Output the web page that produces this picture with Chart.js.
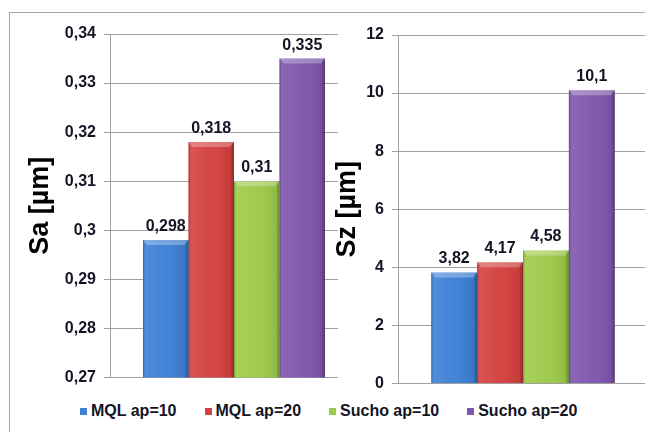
<!DOCTYPE html>
<html>
<head>
<meta charset="utf-8">
<script src="https://cdn.jsdelivr.net/npm/chart.js@4.4.0/dist/chart.umd.min.js"></script>
<style>
body{margin:0;width:645px;height:432px;overflow:hidden;background:#fff;position:relative;font-family:"Liberation Sans",Arial,sans-serif}
#frame{position:absolute;left:9px;top:12px;width:700px;height:500px;border:1px solid #a6a6a6}
#cSa{position:absolute;left:10px;top:13px;z-index:1}
#cSz{position:absolute;left:326px;top:13px;z-index:2}
#legend{position:absolute;left:80px;top:401px;display:flex;gap:28px;z-index:3;line-height:20px}
#legend .it{display:flex;align-items:center;font-weight:bold;font-size:16px;color:#141424}
#legend .sq{width:7px;height:7px;margin-right:4px}
</style>
</head>
<body>
<div id="frame"></div>
<canvas id="cSa" width="348" height="382"></canvas>
<canvas id="cSz" width="322" height="388"></canvas>
<div id="legend"></div>
<script>
// series
const seriesNames = ['MQL ap=10', 'MQL ap=20', 'Sucho ap=10', 'Sucho ap=20'];
const seriesColors = ['#3d7fd4', '#d4403e', '#9dcb48', '#7e56ad'];
const saValues = [0.298, 0.318, 0.31, 0.335];
const szValues = [3.82, 4.17, 4.58, 10.1];

// axis ranges
const saMin = 0.27, saMax = 0.34, saStep = 0.01;
const szMin = 0, szMax = 12, szStep = 2;

function fmt(v) {
    return String(Number(v.toFixed(3))).replace('.', ',');
}

// 3D-ish shading on top of the bars
const bevel = {
    id: 'bevel',
    afterDatasetsDraw(chart) {
        const ctx = chart.ctx;
        const area = chart.chartArea;
        chart.data.datasets.forEach((ds, i) => {
            chart.getDatasetMeta(i).data.forEach(bar => {
                const l = bar.x - bar.width / 2, r = bar.x + bar.width / 2;
                const t = bar.y, b = Math.min(bar.base, area.bottom);
                ctx.save();
                const g = ctx.createLinearGradient(l, 0, r, 0);
                g.addColorStop(0, 'rgba(0,0,0,0.25)');
                g.addColorStop(0.06, 'rgba(255,255,255,0.10)');
                g.addColorStop(0.5, 'rgba(255,255,255,0.03)');
                g.addColorStop(0.92, 'rgba(0,0,0,0.08)');
                g.addColorStop(1, 'rgba(0,0,0,0.35)');
                ctx.fillStyle = g;
                ctx.fillRect(l, t, r - l, b - t);
                ctx.beginPath();
                ctx.moveTo(l, t);
                ctx.lineTo(r, t);
                ctx.lineTo(r - 4, t + 5);
                ctx.lineTo(l + 4, t + 5);
                ctx.closePath();
                ctx.fillStyle = 'rgba(255,255,255,0.28)';
                ctx.fill();
                ctx.restore();
            });
        });
    }
};

// value labels above bars
const valueLabels = {
    id: 'valueLabels',
    afterDatasetsDraw(chart) {
        const ctx = chart.ctx;
        ctx.save();
        ctx.font = 'bold 16px "Liberation Sans", Arial, sans-serif';
        ctx.fillStyle = '#141424';
        ctx.textAlign = 'center';
        ctx.textBaseline = 'alphabetic';
        chart.data.datasets.forEach((ds, i) => {
            chart.getDatasetMeta(i).data.forEach((bar, j) => {
                ctx.fillText(fmt(ds.data[j]), bar.x, bar.y - 9);
            });
        });
        ctx.restore();
    }
};

// white backdrop so the right chart hides the end of the left gridlines
const whiteBack = {
    id: 'whiteBack',
    beforeDraw(chart, args, opts) {
        const ctx = chart.ctx;
        ctx.save();
        ctx.fillStyle = '#fff';
        ctx.fillRect(opts.from, 0, chart.width - opts.from, chart.height);
        ctx.restore();
    }
};

function makeChart(id, values, min, max, step, title, yWidth, titlePad, padTop, padBottom, backFrom) {
    return new Chart(id, {
        type: 'bar',
        data: {
            labels: [''],
            datasets: seriesNames.map((name, i) => ({
                label: name,
                data: [values[i]],
                backgroundColor: seriesColors[i],
                borderWidth: 0,
                barPercentage: 1,
                categoryPercentage: 0.734
            }))
        },
        options: {
            responsive: false,
            animation: false,
            layout: { padding: { top: padTop, bottom: padBottom, left: 0, right: 0 } },
            plugins: {
                legend: { display: false },
                tooltip: { enabled: false },
                whiteBack: { from: backFrom }
            },
            scales: {
                x: {
                    ticks: { display: false },
                    grid: { display: false },
                    border: { display: true, color: '#a0a0a0', width: 1 },
                    afterFit(scale) { scale.height = 0; }
                },
                y: {
                    min: min,
                    max: max,
                    ticks: {
                        stepSize: step,
                        padding: 8,
                        color: '#141424',
                        font: { family: '"Liberation Sans", Arial, sans-serif', size: 16, weight: 'bold' },
                        callback: v => fmt(v)
                    },
                    grid: { color: '#a0a0a0', lineWidth: 1, tickLength: 6 },
                    border: { color: '#a0a0a0' },
                    title: {
                        display: true,
                        text: title,
                        color: '#000',
                        padding: { top: titlePad, bottom: 0 },
                        font: { family: '"Liberation Sans", Arial, sans-serif', size: 27, weight: 'bold' }
                    },
                    afterFit(scale) { scale.width = yWidth; }
                }
            }
        },
        plugins: [whiteBack, bevel, valueLabels]
    });
}

makeChart('cSa', saValues, saMin, saMax, saStep, 'Sa [µm]', 100, 14, 21, 2, 9999);
makeChart('cSz', szValues, szMin, szMax, szStep, 'Sz [µm]', 72, 5, 22, 2, 12);

// legend
const legend = document.getElementById('legend');
seriesNames.forEach((name, i) => {
    const it = document.createElement('div');
    it.className = 'it';
    const sq = document.createElement('span');
    sq.className = 'sq';
    sq.style.background = seriesColors[i];
    it.appendChild(sq);
    it.appendChild(document.createTextNode(name));
    legend.appendChild(it);
});
</script>
</body>
</html>
